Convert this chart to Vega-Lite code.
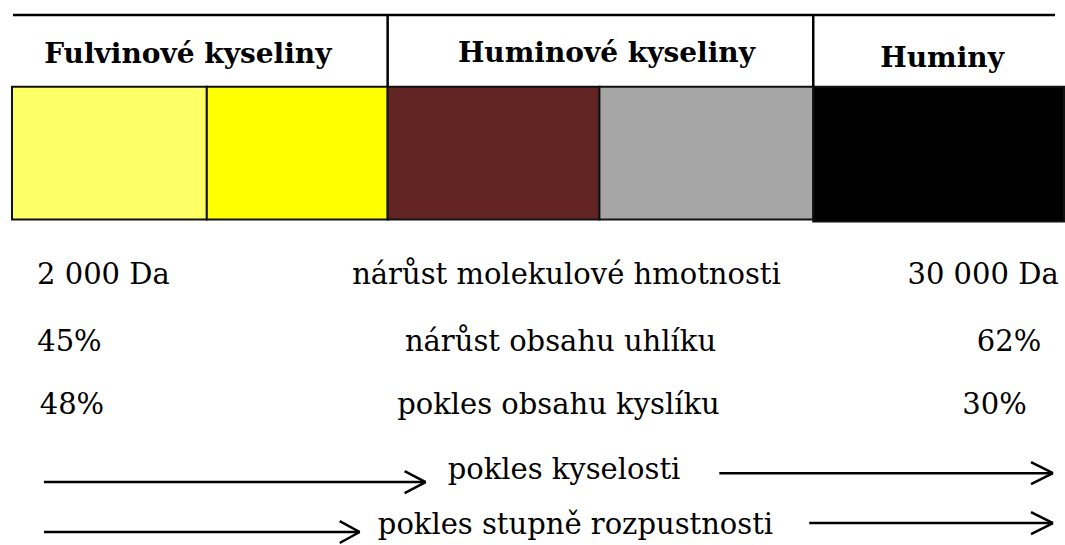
{
  "$schema": "https://vega.github.io/schema/vega-lite/v6.json",
  "width": 1065,
  "height": 545,
  "autosize": {"type": "fit", "contains": "padding"},
  "padding": 0,
  "background": "white",
  "config": {"view": {"stroke": null}},
  "datasets": {
    "boxes": [
      {"name": "F1", "x0": 12, "x1": 207, "y0": 87, "y1": 220},
      {"name": "F2", "x0": 207, "x1": 388, "y0": 87, "y1": 220},
      {"name": "H1", "x0": 388, "x1": 600, "y0": 87, "y1": 220},
      {"name": "H2", "x0": 600, "x1": 814, "y0": 87, "y1": 220},
      {"name": "HU", "x0": 814, "x1": 1065, "y0": 87, "y1": 222}
    ],
    "lines": [
      {"x0": 13, "y0": 15, "x1": 1056, "y1": 15},
      {"x0": 388, "y0": 15, "x1": 388, "y1": 87},
      {"x0": 814, "y0": 15, "x1": 814, "y1": 87},
      {"x0": 44, "y0": 483, "x1": 426, "y1": 483},
      {"x0": 426, "y0": 483, "x1": 405, "y1": 472},
      {"x0": 426, "y0": 483, "x1": 405, "y1": 494},
      {"x0": 44, "y0": 533, "x1": 360, "y1": 533},
      {"x0": 360, "y0": 533, "x1": 340, "y1": 522},
      {"x0": 360, "y0": 533, "x1": 340, "y1": 544},
      {"x0": 720, "y0": 474, "x1": 1054, "y1": 474},
      {"x0": 1054, "y0": 474, "x1": 1032, "y1": 463},
      {"x0": 1054, "y0": 474, "x1": 1032, "y1": 485},
      {"x0": 810, "y0": 524, "x1": 1054, "y1": 524},
      {"x0": 1054, "y0": 524, "x1": 1032, "y1": 513},
      {"x0": 1054, "y0": 524, "x1": 1032, "y1": 535}
    ],
    "headers": [
      {"label": "Fulvinové kyseliny", "x": 188, "y": 63},
      {"label": "Huminové kyseliny", "x": 607, "y": 62},
      {"label": "Huminy", "x": 943, "y": 67}
    ],
    "labels": [
      {"label": "2 000 Da", "x": 103.5, "y": 285},
      {"label": "nárůst molekulové hmotnosti", "x": 567, "y": 285},
      {"label": "30 000 Da", "x": 984, "y": 285},
      {"label": "45%", "x": 69.5, "y": 352},
      {"label": "nárůst obsahu uhlíku", "x": 561, "y": 352},
      {"label": "62%", "x": 1010, "y": 352},
      {"label": "48%", "x": 72, "y": 415},
      {"label": "pokles obsahu kyslíku", "x": 559, "y": 415},
      {"label": "30%", "x": 995.5, "y": 415},
      {"label": "pokles kyselosti", "x": 564.5, "y": 480},
      {"label": "pokles stupně rozpustnosti", "x": 576, "y": 535}
    ]
  },
  "resolve": {"scale": {"x": "shared", "y": "shared"}},
  "layer": [
    {
      "data": {"name": "boxes"},
      "mark": {"type": "rect", "stroke": "#111111", "strokeWidth": 2},
      "encoding": {
        "x": {"field": "x0", "type": "quantitative", "scale": {"domain": [0, 1065], "nice": false, "zero": false}, "axis": null},
        "x2": {"field": "x1"},
        "y": {"field": "y0", "type": "quantitative", "scale": {"domain": [0, 545], "nice": false, "zero": false, "reverse": true}, "axis": null},
        "y2": {"field": "y1"},
        "color": {"field": "name", "type": "nominal", "legend": null,
          "scale": {"domain": ["F1", "F2", "H1", "H2", "HU"], "range": ["#FFFF66", "#FFFF00", "#632523", "#A6A6A6", "#000000"]}}
      }
    },
    {
      "data": {"name": "lines"},
      "mark": {"type": "rule", "color": "#000000", "strokeWidth": 2.5},
      "encoding": {
        "x": {"field": "x0", "type": "quantitative"},
        "x2": {"field": "x1"},
        "y": {"field": "y0", "type": "quantitative"},
        "y2": {"field": "y1"}
      }
    },
    {
      "data": {"name": "headers"},
      "mark": {"type": "text", "font": "DejaVu Serif", "fontSize": 28, "fontWeight": "bold", "align": "center", "baseline": "alphabetic", "color": "#000000"},
      "encoding": {
        "x": {"field": "x", "type": "quantitative"},
        "y": {"field": "y", "type": "quantitative"},
        "text": {"field": "label"}
      }
    },
    {
      "data": {"name": "labels"},
      "mark": {"type": "text", "font": "DejaVu Serif", "fontSize": 29, "align": "center", "baseline": "alphabetic", "color": "#000000"},
      "encoding": {
        "x": {"field": "x", "type": "quantitative"},
        "y": {"field": "y", "type": "quantitative"},
        "text": {"field": "label"}
      }
    }
  ]
}
